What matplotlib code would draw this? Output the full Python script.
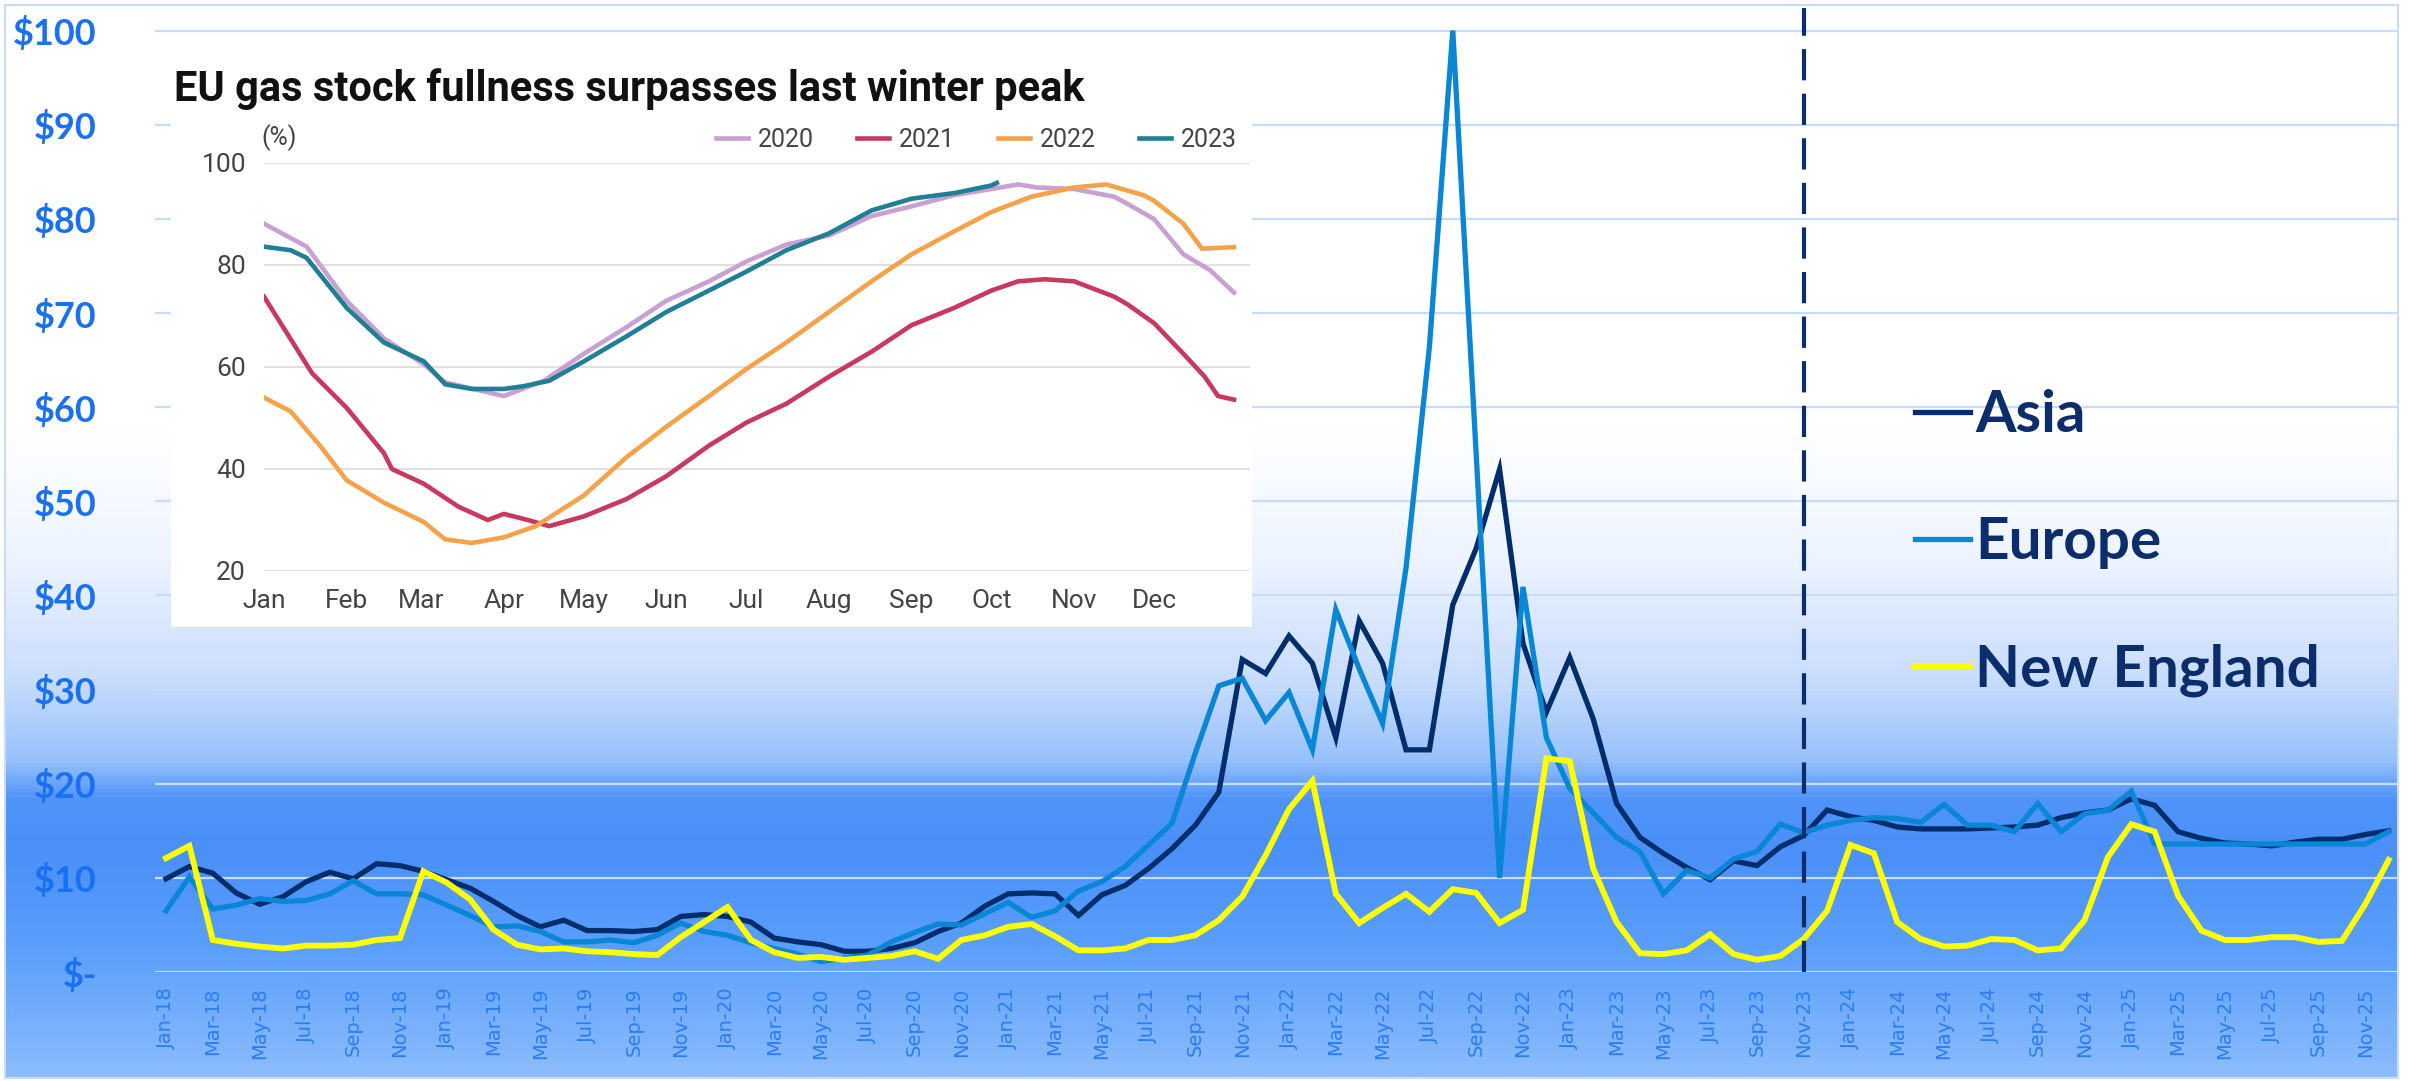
import numpy as np
import pandas as pd
import matplotlib
matplotlib.use("Agg")
import matplotlib.pyplot as plt
from matplotlib.colors import LinearSegmentedColormap

# monthly LNG prices, Jan-18 .. Dec-25 ($/MMBtu)
months = pd.date_range("2018-01-01", periods=96, freq="MS")
month_labels = [m.strftime("%b-%y") for m in months]

asia = [9.9, 11.2, 10.5, 8.4, 7.2, 8.0, 9.6, 10.6, 9.9, 11.5, 11.3, 10.7,
        9.8, 8.9, 7.5, 6.0, 4.8, 5.5, 4.4, 4.4, 4.3, 4.5, 5.9, 6.1,
        5.9, 5.3, 3.6, 3.2, 2.9, 2.2, 2.2, 2.5, 3.1, 4.3, 5.2, 7.0,
        8.3, 8.4, 8.3, 6.0, 8.2, 9.2, 11.0, 13.1, 15.6, 19.1, 33.2, 31.7,
        35.7, 32.8, 24.9, 37.3, 32.8, 23.6, 23.6, 39.0, 45.0, 53.4, 34.9, 27.6,
        33.4, 26.9, 17.9, 14.3, 12.6, 11.1, 9.8, 11.8, 11.3, 13.3, 14.5, 17.2,
        16.5, 16.1, 15.4, 15.2, 15.2, 15.2, 15.3, 15.4, 15.6, 16.4, 16.9, 17.2,
        18.4, 17.7, 14.9, 14.2, 13.7, 13.6, 13.4, 13.8, 14.1, 14.1, 14.6, 15.0]

europe = [6.5, 10.1, 6.7, 7.1, 7.8, 7.5, 7.6, 8.3, 9.7, 8.3, 8.3, 8.2,
          7.1, 6.0, 4.8, 4.9, 4.3, 3.2, 3.2, 3.4, 3.1, 3.9, 5.2, 4.3,
          3.9, 3.1, 2.5, 1.9, 1.1, 1.5, 1.8, 3.2, 4.2, 5.1, 5.0, 6.2,
          7.4, 5.8, 6.5, 8.6, 9.6, 11.2, 13.5, 15.8, 23.3, 30.4, 31.2, 26.7,
          29.7, 23.6, 38.5, 32.2, 26.4, 42.9, 66.4, 100.0, 55.0, 10.0, 40.9, 24.9,
          19.5, 16.9, 14.3, 12.8, 8.3, 10.8, 10.0, 12.0, 12.8, 15.7, 14.8, 15.6,
          16.1, 16.4, 16.3, 15.9, 17.8, 15.6, 15.6, 14.9, 17.9, 14.9, 16.8, 17.2,
          19.2, 13.6, 13.6, 13.6, 13.6, 13.6, 13.6, 13.6, 13.6, 13.6, 13.6, 14.9]

new_england = [12.1, 13.4, 3.4, 3.0, 2.7, 2.5, 2.8, 2.8, 2.9, 3.4, 3.6, 10.7,
               9.5, 7.7, 4.5, 2.9, 2.4, 2.5, 2.2, 2.1, 1.9, 1.8, 3.7, 5.3,
               6.9, 3.4, 2.1, 1.5, 1.6, 1.3, 1.5, 1.7, 2.2, 1.4, 3.4, 3.9,
               4.8, 5.1, 3.8, 2.3, 2.3, 2.5, 3.4, 3.4, 3.9, 5.5, 8.0, 12.4,
               17.3, 20.3, 8.3, 5.2, 6.8, 8.3, 6.4, 8.8, 8.4, 5.2, 6.6, 22.7,
               22.4, 11.0, 5.3, 2.0, 1.9, 2.3, 4.0, 1.9, 1.3, 1.7, 3.5, 6.5,
               13.5, 12.6, 5.3, 3.5, 2.7, 2.8, 3.5, 3.4, 2.3, 2.5, 5.5, 12.2,
               15.7, 14.9, 8.1, 4.4, 3.4, 3.4, 3.7, 3.7, 3.2, 3.3, 7.2, 11.9]

y_labels = ["\\$-", "\\$10", "\\$20", "\\$30", "\\$40", "\\$50",
            "\\$60", "\\$70", "\\$80", "\\$90", "\\$100"]
marker_month = "Nov-23"

# inset: EU gas storage fullness (%), by day of year
inset_title = "EU gas stock fullness surpasses last winter peak"
inset_months = ["Jan", "Feb", "Mar", "Apr", "May", "Jun",
                "Jul", "Aug", "Sep", "Oct", "Nov", "Dec"]
inset_month_days = [0, 31, 59, 90, 120, 151, 181, 212, 243, 273, 304, 334]

days_2020 = [0, 16, 31, 45, 60, 68, 76, 90, 105, 120, 136, 151, 167, 181,
             196, 212, 228, 243, 259, 273, 283, 290, 304, 319, 324, 334, 345, 355, 364]
fill_2020 = [88.1, 83.6, 73.0, 65.6, 60.5, 57.0, 56.0, 54.3, 57.3, 62.6, 67.8, 73.0, 76.8, 80.7,
             84.0, 85.8, 89.6, 91.5, 93.7, 94.9, 95.8, 95.2, 94.9, 93.4, 92.0, 89.0, 82.1, 79.0, 74.6]

days_2021 = [0, 18, 31, 45, 48, 60, 73, 84, 90, 99, 107, 120, 136, 151, 167, 181,
             196, 212, 228, 243, 259, 273, 283, 293, 304, 319, 324, 334, 345, 353, 358, 364]
fill_2021 = [73.8, 58.8, 52.0, 43.1, 40.0, 37.1, 32.6, 30.0, 31.2, 30.0, 28.8, 30.7, 34.1, 38.6, 44.6, 49.1,
             52.8, 58.1, 63.0, 68.2, 71.6, 75.0, 76.8, 77.2, 76.8, 73.8, 72.3, 68.6, 62.6, 58.1, 54.3, 53.6]

days_2022 = [0, 10, 21, 31, 45, 60, 68, 78, 90, 102, 120, 136, 151, 167, 181,
             196, 212, 228, 243, 259, 273, 288, 304, 316, 330, 334, 345, 352, 364]
fill_2022 = [54.0, 51.3, 44.6, 37.8, 33.4, 29.6, 26.2, 25.5, 26.6, 28.8, 34.8, 42.3, 48.3, 54.3, 59.6,
             64.8, 70.8, 76.8, 82.1, 86.6, 90.4, 93.4, 95.2, 95.8, 93.7, 92.6, 88.1, 83.2, 83.5]

days_2023 = [0, 10, 16, 31, 45, 60, 68, 78, 90, 97, 107, 120, 136, 151, 167, 181,
             196, 212, 228, 243, 259, 273, 275]
fill_2023 = [83.6, 82.9, 81.4, 71.6, 64.8, 61.1, 56.6, 55.7, 55.7, 56.2, 57.3, 61.1, 66.0, 70.8, 75.0, 78.7,
             82.9, 86.2, 90.7, 93.0, 94.1, 95.6, 96.1]

W, H = 2410, 1081


def fx(px):
    return px / W


def fy(py):
    return 1 - py / H


fig = plt.figure(figsize=(W / 100, H / 100), dpi=100, facecolor="white")

# gradient background with thin border
bg = fig.add_axes([fx(5), fy(1078), fx(2398) - fx(5), fy(5) - fy(1078)], zorder=-10)
grad = LinearSegmentedColormap.from_list("bg", [
    (0.0, "#ffffff"), (0.396, "#ffffff"), (0.517, "#edf4ff"), (0.629, "#c9ddfd"),
    (0.704, "#98c2fb"), (0.741, "#5094f8"), (0.788, "#4a90f8"), (0.881, "#5a9ffb"),
    (1.0, "#8cbcfd")])
bg.imshow(np.linspace(0, 1, 600).reshape(-1, 1), aspect="auto", cmap=grad)
bg.set_xticks([])
bg.set_yticks([])
for s in bg.spines.values():
    s.set_color("#c8dcf8")
    s.set_linewidth(1.5)

# main chart
ax = fig.add_axes([fx(155), fy(972), fx(2398) - fx(155), fy(8) - fy(972)], zorder=1)
ax.set_facecolor("none")
x = np.arange(len(month_labels))
ax.plot(x, asia, color="#002d6b", lw=3.8, label="Asia", solid_joinstyle="miter")
ax.plot(x, europe, color="#0a86d6", lw=3.8, label="Europe", solid_joinstyle="miter")
ax.plot(x, new_england, color="#ffff00", lw=4.2, label="New England", solid_joinstyle="miter")
ax.axvline(month_labels.index(marker_month), color="#0b2d6b", lw=3.0,
           linestyle=(0, (7.5, 3.2)))

ax.set_xlim(-0.47, 95.4)
ax.set_ylim(0, 102.4)
ax.set_yticks(range(0, 101, 10))
ax.set_yticklabels(y_labels, fontsize=26, fontweight="bold", color="#1a70f2",
                   fontfamily=["Lato", "DejaVu Sans"])
ax.set_xticks(x[::2])
ax.set_xticklabels(month_labels[::2], rotation=90, fontsize=14, color="#2a7df7")
ax.tick_params(axis="y", length=0, pad=42)
ax.tick_params(axis="x", length=0, pad=11)
ax.yaxis.grid(True, color="#c6dcfc", lw=1.6)
ax.set_axisbelow(True)
for s in ax.spines.values():
    s.set_visible(False)

leg = ax.legend(loc="upper left", bbox_to_anchor=(fx(1915), fy(389)),
                bbox_transform=fig.transFigure, frameon=False,
                prop=dict(family=["Lato", "DejaVu Sans"], weight="bold", size=42),
                labelcolor="#0b2d6b", handlelength=0.95, handletextpad=0.08,
                labelspacing=1.27, borderpad=0, borderaxespad=0)

# inset box
box = fig.add_axes([fx(171), fy(627), fx(1252) - fx(171), fy(55) - fy(627)], zorder=2)
box.set_facecolor("white")
box.set_xticks([])
box.set_yticks([])
for s in box.spines.values():
    s.set_visible(False)
narrow = ["Liberation Sans Narrow", "Roboto", "DejaVu Sans"]
box.text(fx(174), fy(89), inset_title, transform=fig.transFigure, va="center", ha="left",
         fontsize=30, fontweight="bold", color="#111111", fontfamily=narrow)

ins = fig.add_axes([fx(264), fy(571), 986 / W, 408 / H], zorder=3)
ins.set_facecolor("none")
ins.plot(days_2020, fill_2020, color="#c9a0d2", lw=3.3, label="2020")
ins.plot(days_2021, fill_2021, color="#c8385f", lw=3.3, label="2021")
ins.plot(days_2022, fill_2022, color="#f5a24b", lw=3.3, label="2022")
ins.plot(days_2023, fill_2023, color="#1f7f96", lw=3.3, label="2023")
ins.set_xlim(0, 370)
ins.set_ylim(20, 100)
ins.set_yticks(range(20, 101, 20))
ins.set_xticks(inset_month_days)
ins.set_xticklabels(inset_months)
ins.tick_params(length=0, labelsize=19, labelcolor="#444444", pad=13)
for lab in ins.get_xticklabels() + ins.get_yticklabels():
    lab.set_fontfamily(narrow)
ins.yaxis.grid(True, color="#dddddd", lw=1.3)
ins.set_axisbelow(True)
for s in ins.spines.values():
    s.set_visible(False)
ins.annotate("(%)", xy=(0, 1), xycoords="axes fraction", xytext=(-2, 18),
             textcoords="offset points", va="center", ha="left",
             fontsize=18, color="#444444", fontfamily=narrow)
ins.legend(loc="center right", bbox_to_anchor=(fx(1237), fy(140)),
           bbox_transform=fig.transFigure, ncol=4, frameon=False,
           prop=dict(family=narrow, size=18), labelcolor="#444444",
           handlelength=1.3, handletextpad=0.4, columnspacing=1.7,
           borderpad=0, borderaxespad=0)

fig.savefig("out.png", dpi=100, facecolor="white")
